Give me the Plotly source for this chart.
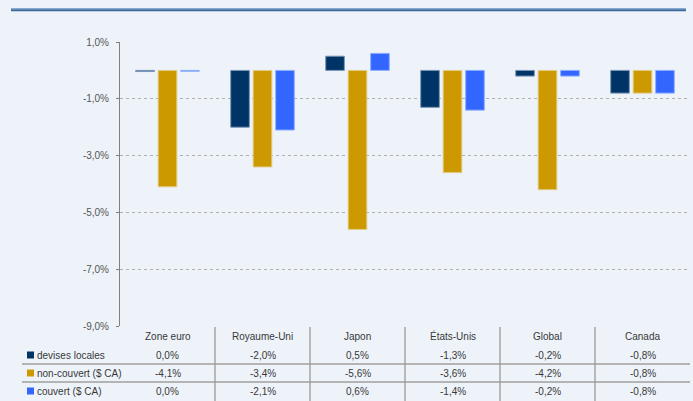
import plotly.graph_objects as go

W, H = 693, 401

categories = ["Zone euro", "Royaume-Uni", "Japon", "États-Unis", "Global", "Canada"]
series_names = ["devises locales", "non-couvert ($ CA)", "couvert ($ CA)"]
devises_locales = [-0.04, -2.0, 0.5, -1.3, -0.2, -0.8]
non_couvert = [-4.1, -3.4, -5.6, -3.6, -4.2, -0.8]
couvert = [-0.03, -2.1, 0.6, -1.4, -0.2, -0.8]
tick_values = [1, -1, -3, -5, -7, -9]

colors = ["#003366", "#CC9900", "#3366FF"]
edge_colors = ["#7A96B8", "#E2CC8A", "#8FAFFF"]
series = [devises_locales, non_couvert, couvert]


def fmt(v):
    r = round(v, 1)
    if r == 0:
        r = 0.0
    return f"{r:.1f}%".replace(".", ",")


def px_x(x):
    return x / W


def px_y(y):
    return 1 - y / H


plot_left, plot_right = 120, 690
plot_top, plot_bottom = 42, 326

fig = go.Figure()
for name, vals, c, ec in zip(series_names, series, colors, edge_colors):
    fig.add_trace(go.Bar(x=categories, y=vals, name=name,
                         marker=dict(color=c, line=dict(color=ec, width=1)),
                         showlegend=False, hoverinfo="skip"))

shapes = []
annotations = []

# top decorative line
shapes.append(dict(type="rect", xref="paper", yref="paper",
                   x0=px_x(11), x1=px_x(686), y0=px_y(9.3), y1=px_y(8),
                   fillcolor="#86AAD2", line=dict(width=0), layer="below"))
shapes.append(dict(type="rect", xref="paper", yref="paper",
                   x0=px_x(11), x1=px_x(686), y0=px_y(11.3), y1=px_y(9.3),
                   fillcolor="#3A6A9C", line=dict(width=0), layer="below"))

# table lines
for yy in [364, 382]:
    shapes.append(dict(type="line", xref="paper", yref="paper",
                       x0=px_x(22), x1=px_x(690), y0=px_y(yy), y1=px_y(yy),
                       line=dict(color="#B4B4B4", width=2)))
cat_w = (plot_right - plot_left) / len(categories)
for i in range(1, len(categories)):
    xx = plot_left + i * cat_w
    shapes.append(dict(type="line", xref="paper", yref="paper",
                       x0=px_x(xx), x1=px_x(xx), y0=px_y(327), y1=px_y(401),
                       line=dict(color="#999999", width=1.3)))

font_fam = "Liberation Sans, Arial, sans-serif"
txt_color = "#383838"
row_y = [355, 373, 391]
header_y = 336

for c in categories:
    annotations.append(dict(x=c, xref="x", y=px_y(header_y), yref="paper",
                            text=c, showarrow=False, xanchor="center", yanchor="middle",
                            font=dict(family=font_fam, size=10, color=txt_color)))

for ri, (name, vals, col) in enumerate(zip(series_names, series, colors)):
    yc = row_y[ri]
    shapes.append(dict(type="rect", xref="paper", yref="paper",
                       x0=px_x(27), x1=px_x(34), y0=px_y(yc + 3.5), y1=px_y(yc - 3.5),
                       fillcolor=col, line=dict(width=0)))
    annotations.append(dict(x=px_x(35), xref="paper", y=px_y(yc), yref="paper",
                            text=name, showarrow=False, xanchor="left", yanchor="middle",
                            font=dict(family=font_fam, size=10, color=txt_color)))
    for c, v in zip(categories, vals):
        annotations.append(dict(x=c, xref="x", y=px_y(yc), yref="paper",
                                text=fmt(v), showarrow=False, xanchor="center", yanchor="middle",
                                font=dict(family=font_fam, size=10, color=txt_color)))

fig.update_layout(
    width=W, height=H,
    margin=dict(l=0, r=0, t=0, b=0, autoexpand=False),
    paper_bgcolor="#EEF3FA", plot_bgcolor="#EEF3FA",
    barmode="group", bargap=0.29, bargroupgap=0.17,
    shapes=shapes, annotations=annotations,
    font=dict(family=font_fam, size=10, color="#444444"),
    xaxis=dict(domain=[px_x(plot_left), px_x(plot_right)], showticklabels=False,
               showgrid=False, zeroline=False, showline=False, ticks="", automargin=False),
    yaxis=dict(domain=[px_y(plot_bottom), px_y(plot_top)], range=[-9, 1],
               tickvals=tick_values, ticktext=[fmt(v) for v in tick_values],
               showgrid=True, gridcolor="#AFAFAF", griddash="dot", gridwidth=1,
               zeroline=False, showline=True, linecolor="#808080", linewidth=1,
               ticks="outside", ticklen=3, tickcolor="#808080", automargin=False,
               ticklabelstandoff=5,
               tickfont=dict(family=font_fam, size=10, color="#555555")),
)

fig.write_html("out.html", config={"displayModeBar": False},
               post_script="document.body.style.margin='0px';document.body.style.background='#EEF3FA';")
